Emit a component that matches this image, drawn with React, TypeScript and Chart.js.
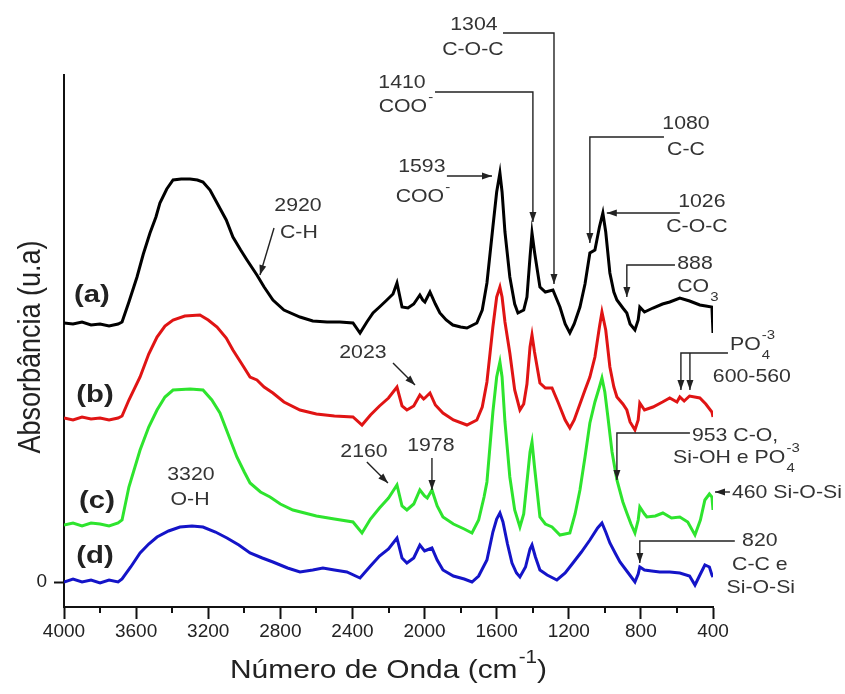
import { useEffect, useRef } from "react";
import { Chart, registerables } from "chart.js";

Chart.register(...registerables);

const FONT = '"Liberation Sans", Arial, Helvetica, sans-serif';
const STRETCH = 1.15;

// ---------------- data (wavenumber cm-1 / absorbance, offset) ----------------
const waveA = [4000, 3950, 3900, 3850, 3800, 3750, 3700, 3678, 3640, 3595, 3560, 3523, 3490, 3468, 3430, 3395, 3350, 3301, 3260, 3229, 3190, 3151, 3100, 3063, 3020, 2985, 2930, 2890, 2841, 2780, 2691, 2620, 2541, 2470, 2397, 2358, 2320, 2286, 2250, 2209, 2175, 2153, 2125, 2092, 2060, 2026, 2010, 1998, 1970, 1940, 1915, 1880, 1843, 1800, 1765, 1710, 1680, 1654, 1621, 1600, 1582, 1570, 1554, 1527, 1500, 1482, 1450, 1432, 1415, 1404, 1390, 1360, 1330, 1288, 1249, 1220, 1194, 1170, 1138, 1110, 1083, 1055, 1030, 1011, 995, 972, 950, 933, 900, 878, 860, 833, 815, 806, 780, 733, 680, 640, 584, 530, 473, 440, 406, 400];
const absA = [2.59, 2.58, 2.6, 2.57, 2.58, 2.56, 2.58, 2.6, 2.8, 3.05, 3.28, 3.49, 3.65, 3.79, 3.93, 4.02, 4.03, 4.03, 4.02, 4.0, 3.92, 3.79, 3.62, 3.45, 3.32, 3.22, 3.07, 2.95, 2.82, 2.72, 2.65, 2.61, 2.6, 2.6, 2.59, 2.49, 2.6, 2.69, 2.75, 2.82, 2.88, 2.99, 2.75, 2.74, 2.78, 2.87, 2.82, 2.8, 2.9, 2.78, 2.69, 2.62, 2.57, 2.55, 2.54, 2.59, 2.72, 2.99, 3.55, 3.9, 4.09, 3.9, 3.5, 3.05, 2.78, 2.69, 2.72, 2.85, 3.25, 3.49, 3.3, 2.95, 2.9, 2.92, 2.75, 2.58, 2.49, 2.58, 2.75, 2.98, 3.29, 3.32, 3.55, 3.69, 3.5, 3.09, 2.9, 2.82, 2.74, 2.69, 2.58, 2.52, 2.62, 2.75, 2.7, 2.74, 2.78, 2.8, 2.84, 2.81, 2.77, 2.76, 2.75, 2.49];

const waveB = [4000, 3950, 3900, 3850, 3800, 3750, 3700, 3678, 3640, 3578, 3530, 3484, 3440, 3395, 3330, 3246, 3200, 3151, 3100, 3063, 3010, 2968, 2930, 2890, 2841, 2780, 2691, 2600, 2500, 2397, 2347, 2300, 2250, 2200, 2153, 2125, 2098, 2060, 2026, 2005, 1998, 1970, 1940, 1898, 1840, 1765, 1710, 1680, 1654, 1621, 1600, 1582, 1570, 1554, 1527, 1500, 1471, 1450, 1432, 1415, 1404, 1390, 1360, 1330, 1293, 1260, 1220, 1194, 1170, 1138, 1110, 1083, 1055, 1030, 1016, 995, 972, 950, 933, 900, 878, 860, 833, 815, 806, 780, 733, 680, 640, 600, 584, 560, 530, 473, 440, 406, 400];
const absB = [1.64, 1.62, 1.65, 1.63, 1.64, 1.62, 1.64, 1.66, 1.82, 2.05, 2.28, 2.45, 2.56, 2.62, 2.66, 2.67, 2.62, 2.55, 2.44, 2.32, 2.17, 2.05, 2.02, 1.95, 1.89, 1.8, 1.72, 1.68, 1.66, 1.65, 1.57, 1.67, 1.76, 1.84, 1.95, 1.76, 1.72, 1.76, 1.87, 1.83, 1.84, 1.89, 1.77, 1.69, 1.62, 1.57, 1.62, 1.75, 2.0, 2.55, 2.85, 2.95, 2.85, 2.6, 2.29, 1.92, 1.72, 1.78, 1.98, 2.35, 2.47, 2.3, 1.99, 1.94, 1.94, 1.8, 1.62, 1.54, 1.62, 1.78, 1.92, 2.05, 2.25, 2.55, 2.7, 2.52, 2.15, 1.95, 1.85, 1.78, 1.72, 1.6, 1.52, 1.62, 1.79, 1.72, 1.75, 1.8, 1.84, 1.8, 1.85, 1.81, 1.86, 1.84, 1.78, 1.7, 1.65];

const waveC = [4000, 3950, 3900, 3850, 3800, 3750, 3700, 3678, 3640, 3578, 3530, 3484, 3440, 3395, 3300, 3229, 3180, 3135, 3090, 3041, 3000, 2968, 2910, 2857, 2800, 2730, 2600, 2500, 2397, 2347, 2300, 2250, 2200, 2153, 2125, 2098, 2060, 2026, 2000, 1985, 1959, 1930, 1898, 1840, 1780, 1737, 1700, 1670, 1654, 1621, 1600, 1582, 1570, 1554, 1527, 1500, 1471, 1450, 1432, 1415, 1404, 1390, 1360, 1330, 1293, 1249, 1194, 1165, 1138, 1110, 1083, 1055, 1030, 1016, 1000, 983, 960, 933, 900, 878, 855, 833, 815, 806, 780, 767, 720, 678, 630, 584, 540, 500, 470, 445, 420, 406, 400];
const absC = [0.57, 0.59, 0.56, 0.59, 0.58, 0.56, 0.59, 0.62, 0.95, 1.32, 1.55, 1.72, 1.85, 1.92, 1.93, 1.92, 1.82, 1.69, 1.48, 1.25, 1.1, 0.99, 0.9, 0.85, 0.78, 0.72, 0.66, 0.63, 0.6, 0.49, 0.63, 0.74, 0.84, 0.97, 0.76, 0.72, 0.78, 0.92, 0.86, 0.84, 0.92, 0.76, 0.65, 0.58, 0.53, 0.49, 0.62, 0.85, 1.0, 1.7, 2.05, 2.2, 2.05, 1.6, 1.05, 0.72, 0.55, 0.68, 1.0, 1.3, 1.4, 1.15, 0.65, 0.58, 0.55, 0.47, 0.49, 0.68, 0.92, 1.25, 1.59, 1.8, 1.95, 2.04, 1.9, 1.65, 1.3, 1.02, 0.8, 0.69, 0.58, 0.49, 0.62, 0.75, 0.68, 0.65, 0.66, 0.69, 0.64, 0.65, 0.6, 0.47, 0.62, 0.82, 0.88, 0.85, 0.72];

const waveD = [4000, 3950, 3900, 3850, 3800, 3750, 3700, 3678, 3630, 3578, 3530, 3484, 3420, 3357, 3290, 3229, 3160, 3096, 3030, 2968, 2900, 2841, 2760, 2691, 2620, 2564, 2500, 2431, 2358, 2300, 2250, 2200, 2153, 2125, 2098, 2060, 2026, 2000, 1987, 1959, 1930, 1898, 1840, 1780, 1737, 1700, 1654, 1621, 1600, 1582, 1565, 1540, 1515, 1490, 1471, 1440, 1415, 1404, 1385, 1360, 1320, 1266, 1220, 1177, 1130, 1083, 1040, 1016, 995, 972, 940, 916, 870, 833, 815, 806, 780, 740, 695, 640, 584, 530, 500, 470, 445, 420, 406, 400];
const absD = [0.0, 0.03, 0.0, 0.02, -0.01, 0.02, 0.0, 0.03, 0.15, 0.29, 0.38, 0.45, 0.51, 0.55, 0.56, 0.55, 0.5, 0.44, 0.37, 0.29, 0.24, 0.2, 0.14, 0.1, 0.12, 0.14, 0.12, 0.1, 0.04, 0.16, 0.26, 0.33, 0.44, 0.24, 0.19, 0.24, 0.37, 0.31, 0.32, 0.34, 0.22, 0.12, 0.06, 0.03, 0.0, 0.06, 0.22, 0.5, 0.63, 0.69, 0.6, 0.38, 0.19, 0.09, 0.05, 0.15, 0.33, 0.37, 0.25, 0.12, 0.07, 0.02, 0.09, 0.19, 0.3, 0.42, 0.54, 0.59, 0.5, 0.39, 0.28, 0.2, 0.09, 0.0, 0.08, 0.15, 0.12, 0.11, 0.1, 0.1, 0.09, 0.06, -0.03, 0.08, 0.17, 0.15, 0.07, 0.05];

const seriesLabels = ["(a)", "(b)", "(c)", "(d)"];
const xTicks = [4000, 3600, 3200, 2800, 2400, 2000, 1600, 1200, 800, 400];
const xMinorTicks = [3800, 3400, 3000, 2600, 2200, 1800, 1400, 1000, 600];
const yTicks = [0];

// annotation texts and leader lines (anchored in data coordinates)
const annotations = [
  { texts: [["1304", 1726, 5.57, "center"], ["C-O-C", 1732, 5.32, "center"]], paths: [[[1565, 5.49], [1282, 5.49], [1282, 2.98]]] },
  { texts: [["1410", 2125, 4.99, "center"], ["COO^{-}", 2103, 4.75, "center"]], paths: [[[1942, 4.9], [1399, 4.9], [1399, 3.6]]] },
  { texts: [["1593", 2015, 4.15, "center"], ["COO^{-}", 2009, 3.85, "center"]], paths: [[[1876, 4.06], [1626, 4.06]]] },
  { texts: [["1080", 550, 4.58, "center"], ["C-C", 550, 4.32, "center"]], paths: [[[672, 4.45], [1083, 4.45], [1083, 3.39]]] },
  { texts: [["1026", 462, 3.8, "center"], ["C-O-C", 489, 3.55, "center"]], paths: [[[584, 3.69], [989, 3.69]]] },
  { texts: [["888", 500, 3.18, "center"], ["CO_{3}", 484, 2.95, "center"]], paths: [[[611, 3.17], [878, 3.17], [878, 2.85]]] },
  { texts: [["PO_{4}^{-3}", 306, 2.37, "left"], ["600-560", 401, 2.05, "left"]], paths: [[[317, 2.29], [578, 2.29], [578, 1.92]], [[528, 2.29], [528, 1.92]]] },
  { texts: [["953 C-O,", 517, 1.46, "left"], ["Si-OH e PO_{4}^{-3}", 622, 1.24, "left"]], paths: [[[528, 1.49], [933, 1.49], [933, 1.02]]] },
  { texts: [["460 Si-O-Si", 295, 0.89, "left"]], paths: [[[306, 0.9], [389, 0.9]]] },
  { texts: [["820", 140, 0.41, "center"], ["C-C e", 140, 0.17, "center"], ["Si-O-Si", 135, -0.06, "center"]], paths: [[[279, 0.41], [806, 0.41], [806, 0.19]]] },
  { texts: [["2920", 2702, 3.76, "center"], ["C-H", 2697, 3.49, "center"]], paths: [[[2835, 3.54], [2913, 3.07]]] },
  { texts: [["2023", 2342, 2.29, "center"]], paths: [[[2175, 2.19], [2053, 1.97]]] },
  { texts: [["2160", 2336, 1.3, "center"]], paths: [[[2320, 1.2], [2203, 0.99]]] },
  { texts: [["1978", 1965, 1.36, "center"]], paths: [[[1959, 1.24], [1959, 0.92]]] },
  { texts: [["3320", 3296, 1.07, "center"], ["O-H", 3301, 0.82, "center"]], paths: [] },
];
const seriesLabelPos = [[3845, 2.87], [3828, 1.87], [3817, 0.81], [3828, 0.26]];

const seriesColors = ["#000000", "#e01414", "#2ee42e", "#1414c8"];

// ---------------- drawing helpers ----------------
type Seg = { t: string; k: "n" | "sup" | "sub" };
function parseRich(s: string): Seg[] {
  const segs: Seg[] = [];
  let buf = "";
  let i = 0;
  while (i < s.length) {
    const c = s[i];
    if ((c === "^" || c === "_") && s[i + 1] === "{") {
      if (buf) { segs.push({ t: buf, k: "n" }); buf = ""; }
      const end = s.indexOf("}", i);
      segs.push({ t: s.slice(i + 2, end), k: c === "^" ? "sup" : "sub" });
      i = end + 1;
    } else { buf += c; i++; }
  }
  if (buf) segs.push({ t: buf, k: "n" });
  return segs;
}

function drawRich(ctx: CanvasRenderingContext2D, s: string, x: number, y: number,
  opt: { size: number; bold?: boolean; align: string; stretch: number; color: string }) {
  const segs = parseRich(s);
  const b = opt.bold ? "bold " : "";
  const fMain = `${b}${opt.size}px ${FONT}`;
  const fSmall = `${b}${Math.round(opt.size * 0.68)}px ${FONT}`;
  let cx = 0;
  const placed: any[] = [];
  let prev: any = null;
  for (const sg of segs) {
    ctx.font = sg.k === "n" ? fMain : fSmall;
    const w = ctx.measureText(sg.t).width;
    let sx = cx + (sg.k === "n" ? 0 : 1);
    if (sg.k === "sup" && prev && prev.k === "sub") sx = prev.x;
    cx = Math.max(cx, sx + w);
    const p = { ...sg, x: sx, w };
    placed.push(p);
    prev = p;
  }
  const total = cx;
  const off = opt.align === "center" ? -total / 2 : opt.align === "right" ? -total : 0;
  ctx.save();
  ctx.translate(x, y);
  ctx.scale(opt.stretch, 1);
  ctx.fillStyle = opt.color;
  ctx.textBaseline = "middle";
  ctx.textAlign = "left";
  for (const p of placed) {
    ctx.font = p.k === "n" ? fMain : fSmall;
    const dy = p.k === "sup" ? -opt.size * 0.5 : p.k === "sub" ? opt.size * 0.55 : 0;
    ctx.fillText(p.t, off + p.x, dy);
  }
  ctx.restore();
}

function arrowHead(ctx: CanvasRenderingContext2D, x1: number, y1: number, x2: number, y2: number) {
  const len = 10, half = 3.5;
  const a = Math.atan2(y2 - y1, x2 - x1);
  const c = Math.cos(a), s = Math.sin(a);
  ctx.beginPath();
  ctx.moveTo(x2, y2);
  ctx.lineTo(x2 - len * c + half * s, y2 - len * s - half * c);
  ctx.lineTo(x2 - len * c - half * s, y2 - len * s + half * c);
  ctx.closePath();
  ctx.fill();
}

const annotationPlugin = {
  id: "ftirAnnotations",
  afterDraw(chart: any) {
    const { ctx, chartArea } = chart;
    const xs = chart.scales.x, ys = chart.scales.y;
    const px = (w: number) => xs.getPixelForValue(w);
    const py = (v: number) => ys.getPixelForValue(v);

    ctx.save();
    // minor ticks on x axis
    ctx.strokeStyle = "#111";
    ctx.lineWidth = 2;
    for (const m of xMinorTicks) {
      const X = Math.round(px(m));
      ctx.beginPath();
      ctx.moveTo(X, chartArea.bottom);
      ctx.lineTo(X, chartArea.bottom + 6);
      ctx.stroke();
    }

    // leader lines with arrows
    ctx.strokeStyle = "#222";
    ctx.fillStyle = "#222";
    ctx.lineWidth = 1.4;
    for (const an of annotations) {
      for (const path of an.paths) {
        const pts = path.map(([w, v]) => [px(w), py(v)]);
        ctx.beginPath();
        pts.forEach(([X, Y], i) => (i === 0 ? ctx.moveTo(X, Y) : ctx.lineTo(X, Y)));
        ctx.stroke();
        const n = pts.length;
        arrowHead(ctx, pts[n - 2][0], pts[n - 2][1], pts[n - 1][0], pts[n - 1][1]);
      }
    }
    // annotation texts
    for (const an of annotations) {
      for (const [s, w, v, align] of an.texts as any[]) {
        drawRich(ctx, s, px(w), py(v), { size: 18.5, align, stretch: STRETCH, color: "#333" });
      }
    }
    // series labels
    seriesLabels.forEach((lab, i) => {
      const [w, v] = seriesLabelPos[i];
      drawRich(ctx, lab, px(w), py(v), { size: 24, bold: true, align: "center", stretch: 1.22, color: "#222" });
    });

    // axis titles
    const cxMid = (chartArea.left + chartArea.right) / 2;
    drawRich(ctx, "Número de Onda (cm^{-1})", cxMid, chartArea.bottom + 64, { size: 26, align: "center", stretch: STRETCH, color: "#222" });

    const cyMid = (chartArea.top + chartArea.bottom) / 2 + 6;
    ctx.save();
    ctx.translate(chartArea.left - 33, cyMid);
    ctx.scale(STRETCH, 1);
    ctx.rotate(-Math.PI / 2);
    ctx.font = `27px ${FONT}`;
    ctx.fillStyle = "#222";
    ctx.textAlign = "center";
    ctx.textBaseline = "middle";
    ctx.fillText("Absorbância (u.a)", 0, 0);
    ctx.restore();

    ctx.restore();
  },
};

function toPoints(w: number[], a: number[]) {
  return w.map((x, i) => ({ x, y: a[i] }));
}

export default function App() {
  const ref = useRef<HTMLCanvasElement | null>(null);
  useEffect(() => {
    if (!ref.current) return;
    const datasets = [
      toPoints(waveA, absA),
      toPoints(waveB, absB),
      toPoints(waveC, absC),
      toPoints(waveD, absD),
    ].map((data, i) => ({
      label: seriesLabels[i],
      data,
      borderColor: seriesColors[i],
      backgroundColor: seriesColors[i],
      borderWidth: 3,
      pointRadius: 0,
      tension: 0,
      fill: false,
    }));
    const axisCommon = {
      border: { display: true, color: "#111", width: 2 },
    };
    const chart = new Chart(ref.current, {
      type: "line",
      data: { datasets },
      options: {
        animation: false,
        responsive: false,
        devicePixelRatio: 1,
        layout: { padding: { left: 0, top: 75, right: 132, bottom: 0 } },
        plugins: { legend: { display: false }, tooltip: { enabled: false } },
        scales: {
          x: {
            type: "linear",
            reverse: true,
            min: 400,
            max: 4000,
            afterBuildTicks: (s: any) => { s.ticks = xTicks.map((v) => ({ value: v })); },
            afterFit: (s: any) => { s.height = 87; },
            ticks: {
              font: { size: 19, family: FONT },
              color: "#222",
              padding: 1,
              maxRotation: 0,
              autoSkip: false,
              callback: (v: any) => String(v),
            },
            grid: { display: true, drawOnChartArea: false, drawTicks: true, tickLength: 12, tickWidth: 2, tickColor: "#111", color: "#111" },
            ...axisCommon,
          },
          y: {
            type: "linear",
            min: -0.25,
            max: 5.07,
            afterBuildTicks: (s: any) => { s.ticks = yTicks.map((v) => ({ value: v })); },
            afterFit: (s: any) => { s.width = 64; },
            ticks: {
              font: { size: 19, family: FONT },
              color: "#222",
              padding: 7,
              callback: (v: any) => String(v),
            },
            grid: { display: true, drawOnChartArea: false, drawTicks: true, tickLength: 10, tickWidth: 2, tickColor: "#111", color: "#111" },
            ...axisCommon,
          },
        },
      } as any,
      plugins: [annotationPlugin],
    });
    return () => chart.destroy();
  }, []);
  return (
    <div style={{ position: "fixed", left: 0, top: 0, width: 845, height: 694, background: "#fff" }}>
      <canvas ref={ref} width={845} height={694} style={{ width: 845, height: 694, display: "block" }} />
    </div>
  );
}
